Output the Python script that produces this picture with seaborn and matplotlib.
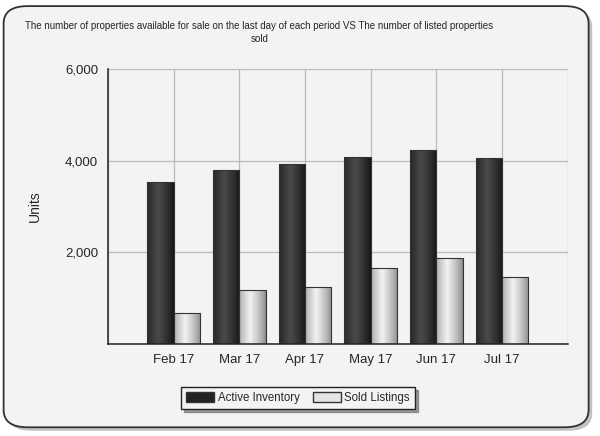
import numpy as np
import pandas as pd
import matplotlib
matplotlib.use("Agg")
import matplotlib.pyplot as plt
import seaborn as sns
from matplotlib.patches import FancyBboxPatch, Patch
from matplotlib.colors import to_rgb

# data
months = ["Feb 17", "Mar 17", "Apr 17", "May 17", "Jun 17", "Jul 17"]
active_inventory = [3524, 3799, 3923, 4083, 4228, 4047]
sold_listings = [669, 1184, 1249, 1663, 1881, 1467]
series_names = ["Active Inventory", "Sold Listings"]
y_ticks = [0, 2000, 4000, 6000]

df = pd.DataFrame({
    "month": months * 2,
    "units": active_inventory + sold_listings,
    "series": [series_names[0]] * len(months) + [series_names[1]] * len(months),
})

sns.set_style("white")
plt.rcParams["font.family"] = ["Liberation Sans", "DejaVu Sans"]

fig = plt.figure(figsize=(6, 4.36), dpi=100, facecolor="white")

# rounded panel with a drop shadow
shadow = FancyBboxPatch((0.012, 0.012), 0.975, 0.966,
                        boxstyle="round,pad=0,rounding_size=0.04",
                        transform=fig.transFigure, facecolor="#9a9a9a",
                        edgecolor="none", alpha=0.6, zorder=-2)
panel = FancyBboxPatch((0.006, 0.02), 0.975, 0.966,
                       boxstyle="round,pad=0,rounding_size=0.04",
                       transform=fig.transFigure, facecolor="#f3f3f3",
                       edgecolor="#333333", linewidth=1.3, zorder=-1)
fig.patches.extend([shadow, panel])

ax = fig.add_axes([0.18, 0.211, 0.766, 0.631])
ax.set_facecolor("none")
ax.set_zorder(1)

sns.barplot(data=df, x="month", y="units", hue="series",
            palette=["#222222", "#dddddd"], width=0.8,
            edgecolor="#333333", linewidth=0.8, legend=False, ax=ax, zorder=3)

# horizontal gradient fill on every bar
def gradient(edge, mid, n=64):
    e, m = np.array(to_rgb(edge)), np.array(to_rgb(mid))
    t = np.linspace(0, 1, n)
    w = np.clip(1 - np.abs(t - 0.42) / 0.58, 0, 1) ** 0.8
    return (e[None, :] * (1 - w[:, None]) + m[None, :] * w[:, None])[None, :, :]

grad_dark = gradient("#141414", "#4a4a4a")
grad_light = gradient("#8a8a8a", "#f2f2f2")
n = len(months)
for i, p in enumerate(ax.patches[:2 * n]):
    x0, y0 = p.get_x(), p.get_y()
    w, h = p.get_width(), p.get_height()
    g = grad_dark if i < n else grad_light
    im = ax.imshow(g, extent=(x0, x0 + w, y0, y0 + h), aspect="auto",
                   zorder=3.5, interpolation="bilinear")
    im.set_clip_path(p)
    p.set_facecolor("none")
    p.set_zorder(4)

ax.set_xlim(-1, 6)
ax.set_ylim(0, 6000)
ax.set_yticks(y_ticks)
ax.set_yticklabels(["", "2,000", "4,000", "6,000"], fontsize=9.5)
ax.set_xticks(range(-1, 7))
ax.set_xticklabels([""] + months + [""], fontsize=9.5)
ax.tick_params(axis="both", direction="out", length=4, width=1,
               color="#222222", pad=3)

ax.grid(True, color="#bbbbbb", linewidth=0.9, zorder=0)
ax.set_axisbelow(True)
for s in ["top", "right"]:
    ax.spines[s].set_visible(False)
for s in ["left", "bottom"]:
    ax.spines[s].set_color("#222222")
    ax.spines[s].set_linewidth(1.1)
    ax.spines[s].set_zorder(5)

ax.set_xlabel("")
ax.set_ylabel("Units", fontsize=10, labelpad=17)

fig.text(0.432, 0.926,
         "The number of properties available for sale on the last day of each period VS The number of listed properties\nsold",
         ha="center", va="center", fontsize=7.0, linespacing=1.4)

handles = [Patch(facecolor="#222222", edgecolor="#333333"),
           Patch(facecolor="#e4e4e4", edgecolor="#333333")]
leg = fig.legend(handles, series_names, loc="center", ncol=2,
                 bbox_to_anchor=(0.497, 0.087), fontsize=8.3,
                 frameon=True, fancybox=False, shadow=True,
                 handlelength=2.4, handleheight=0.9, columnspacing=1.2,
                 handletextpad=0.3, borderpad=0.45)
leg.get_frame().set_edgecolor("#222222")
leg.get_frame().set_facecolor("#f3f3f3")
leg.get_frame().set_linewidth(1.0)

fig.savefig("out.png", dpi=100, facecolor="white")
